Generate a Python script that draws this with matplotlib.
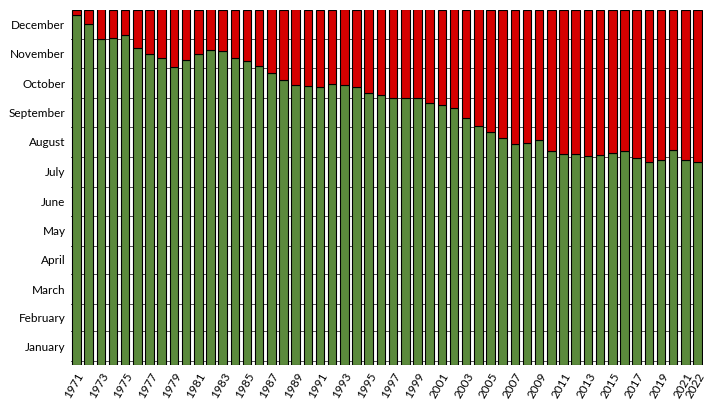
import matplotlib
matplotlib.use("Agg")
import matplotlib.pyplot as plt
import numpy as np

years = list(range(1971, 2023))
# overshoot day (day of year)
overshoot_day = [
    359.6, 349.6, 334.7, 335.7, 338.8, 325.4, 318.4, 314.2, 305.6, 312.5,
    318.4, 323.3, 322.3, 315.0, 311.8, 306.6, 299.5, 291.8, 286.9, 285.9,
    284.9, 288.0, 287.0, 284.9, 278.6, 276.5, 273.4, 273.4, 273.4, 268.2,
    266.1, 263.0, 252.6, 244.3, 237.4, 231.9, 225.6, 226.7, 229.8, 218.4,
    215.3, 215.3, 213.2, 214.2, 216.3, 218.4, 211.1, 206.9, 208.4, 219.1,
    209.0, 206.9,
]
months = ["January", "February", "March", "April", "May", "June", "July",
          "August", "September", "October", "November", "December"]
month_len = [31, 28, 31, 30, 31, 30, 31, 31, 30, 31, 30, 31]

plt.rcParams["font.family"] = "Lato"
fig = plt.figure(figsize=(7.17, 4.03), dpi=100)
ax = fig.add_axes([71 / 717, 1 - 365 / 403, 632 / 717, 355.5 / 403])

starts = np.concatenate([[0], np.cumsum(month_len)[:-1]])
mids = starts + np.array(month_len) / 2
x = np.arange(len(years))
base = -4
green = np.array(overshoot_day) - base
red = 365 - np.array(overshoot_day)
ax.bar(x, green, bottom=base, width=0.7, color="#5b8a3c", edgecolor="black", linewidth=0.8, zorder=2)
ax.bar(x, red, bottom=overshoot_day, width=0.7, color="#d50000", edgecolor="black", linewidth=0.8, zorder=2)

for s in starts:
    ax.axhline(s, color="#555555", linewidth=0.7, zorder=1)

ax.set_ylim(base, 365)
ax.set_xlim(-0.45, len(years) - 0.55)
ax.set_yticks(mids)
ax.set_yticklabels(months, fontsize=8.5)
ticks = list(range(0, len(years), 2)) + [len(years) - 1]
ax.set_xticks(ticks)
ax.set_xticklabels([str(years[i]) for i in ticks], rotation=60, fontsize=8.5, ha="right", rotation_mode="anchor")
ax.tick_params(length=0, pad=4)
for sp in ax.spines.values():
    sp.set_visible(False)

fig.savefig("out.png", dpi=100)
